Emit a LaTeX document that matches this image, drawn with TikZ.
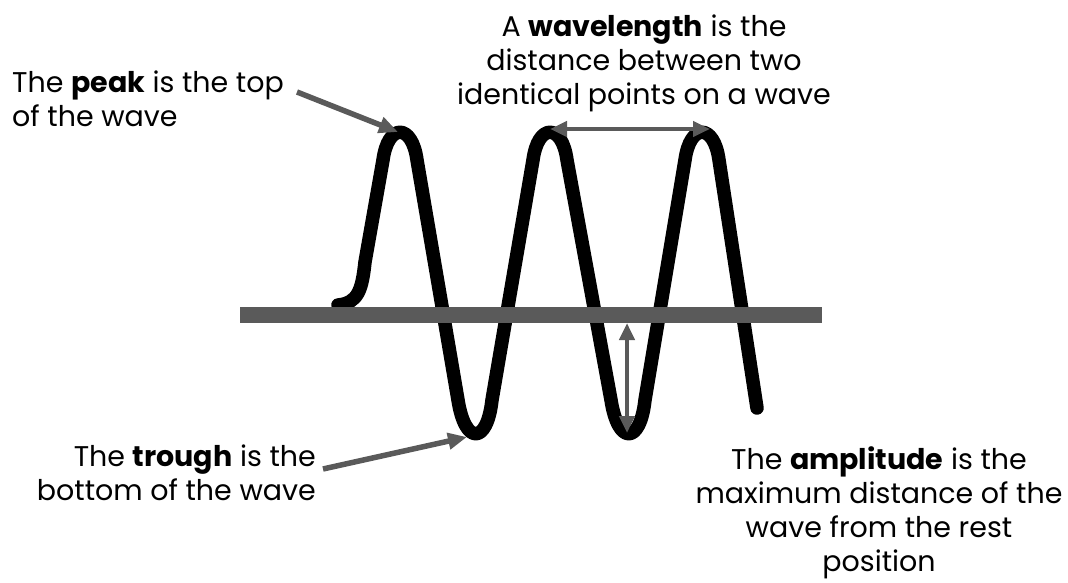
\documentclass[tikz,border=0pt]{standalone}
\usepackage{fontspec}
\setmainfont{Poppins}
\usetikzlibrary{arrows.meta}

\definecolor{restgray}{RGB}{90,90,90}

\tikzset{
  label/.style={inner sep=0pt, font=\fontsize{28.5}{34}\selectfont},
  pointer/.style={restgray, line width=5.5pt, -{Triangle[length=19pt,width=16pt]}},
  twoway/.style={restgray, line width=4.5pt, {Triangle[length=17pt,width=15pt]}-{Triangle[length=17pt,width=15pt]}},
}

\begin{document}
\begin{tikzpicture}[x=1pt,y=-1pt]
        \useasboundingbox (0,0) rectangle (1068,583);
        % the wave
        \draw[line width=13.5pt, line cap=round, line join=round]
          (338,305) .. controls (358,303) and (362,290) .. (365,262)
          -- (383,160) .. controls (388,123) and (412,123) .. (417,160)
          -- (458,400) .. controls (465,445) and (487,445) .. (492,400)
          -- (533,160) .. controls (538,123) and (562,123) .. (567,160)
          -- (611,400) .. controls (618,445) and (640,445) .. (645,400)
          -- (685,160) .. controls (690,123) and (714,123) .. (719,160)
          -- (757,408);
        % rest position
        \draw[restgray, line width=16pt] (240,315) -- (822,315);

        \coordinate (peaktop) at (398,132);
        \coordinate (troughbot) at (467,437);
        \coordinate (crestA) at (550,129);
        \coordinate (crestB) at (710,129);
        \coordinate (restpt) at (627,323);
        \coordinate (lowpt) at (627,433);
        \coordinate (peakfrom) at (297,92);
        \coordinate (troughfrom) at (323,469);

        \node[label, align=left, anchor=north west] (peaklbl) at (12,71)
          {The \textbf{peak} is the top\\of the wave};
        \node[label, align=center, anchor=north] (wavelbl) at (644,15)
          {A \textbf{wavelength} is the\\distance between two\\identical points on a wave};
        \node[label, align=right, anchor=north east] (troughlbl) at (316,445)
          {The \textbf{trough} is the\\bottom of the wave};
        \node[label, align=center, anchor=north] (amplbl) at (879,446)
          {The \textbf{amplitude} is the\\maximum distance of the\\wave from the rest\\position};

        \draw[pointer] (peakfrom) -- (peaktop);
        \draw[pointer] (troughfrom) -- (troughbot);
        \draw[twoway] (crestA) -- (crestB);
        \draw[twoway] (restpt) -- (lowpt);
      \end{tikzpicture}
\end{document}
